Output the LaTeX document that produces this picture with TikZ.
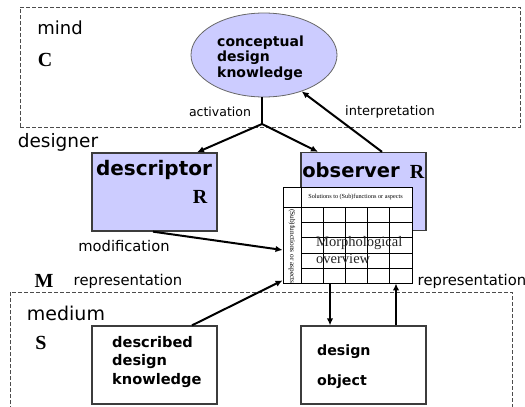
\documentclass[tikz,border=0pt]{standalone}
\usepackage{fontspec}
\setmainfont{DejaVu Sans}
\newfontfamily\tms{Liberation Serif}
\usetikzlibrary{arrows.meta,shapes.geometric,calc}
\definecolor{lav}{RGB}{204,204,255}
\definecolor{edgegray}{RGB}{60,60,60}
\begin{document}
\begin{tikzpicture}[x=1pt,y=-1pt,
  container/.style={draw=black!70, line width=0.7pt, dash pattern=on 4pt off 2pt},
  box/.style={draw=edgegray, line width=1.3pt, minimum width=125pt, minimum height=78pt, inner sep=0pt},
  lavbox/.style={box, fill=lav},
  txt/.style={inner sep=0pt, text=black},
  tb/.style={inner sep=0pt, font=\tms\bfseries\fontsize{20}{20}\selectfont},
  arr/.style={line width=2pt, -{Latex[length=7pt,width=6.5pt]}},
  grid/.style={line width=0.9pt, draw=black}
]
\useasboundingbox (0,0) rectangle (525,407);
% containers
\node[container, minimum width=500pt, minimum height=120pt, inner sep=0pt] (mindbox) at (270,67) {};
\draw[container] (10,410) -- (10,292) -- (512,292) -- (512,410);
% labels
\node[txt, font=\fontsize{18}{18}\selectfont] (tmind) at (60,28) {mind};
\node[tb] (tC) at (45,60) {C};
\node[txt, font=\fontsize{18.5}{18.5}\selectfont] (tdesigner) at (58,142) {designer};
\node[txt, font=\fontsize{12.5}{12.5}\selectfont] (tact) at (220,112) {activation};
\node[txt, font=\fontsize{13}{13}\selectfont] (tint) at (390,112) {interpretation};
\node[txt, font=\fontsize{14.7}{14.7}\selectfont] (tmod) at (124,246) {modification};
\node[tb] (tM) at (44,281) {M};
\node[txt, font=\fontsize{14.8}{14.8}\selectfont] (trep1) at (128,281) {representation};
\node[txt, font=\fontsize{14.8}{14.8}\selectfont] (trep2) at (472,281) {representation};
\node[txt, font=\fontsize{19}{19}\selectfont] (tmedium) at (66,313) {medium};
\node[tb] (tS) at (41,343) {S};
% ellipse
\node[ellipse, draw=black!60, line width=0.8pt, fill=lav, minimum width=146pt, minimum height=84pt, inner sep=0pt] (ck) at (264,55) {};
\node[txt, anchor=west, align=left, font=\bfseries\fontsize{14}{15.5}\selectfont] (cktext) at (217,58) {conceptual\\design\\knowledge};
% descriptor / observer
\node[lavbox] (desc) at (154.5,192) {};
\node[txt, font=\bfseries\fontsize{20}{20}\selectfont] (tdesc) at (154,170) {descriptor};
\node[tb] (tR1) at (200,197) {R};
\node[lavbox] (obs) at (363.5,191.5) {};
\node[txt, font=\bfseries\fontsize{19.5}{19.5}\selectfont] (tobs) at (351,170) {observer};
\node[tb] (tR2) at (417,172) {R};
% table
\node[draw=black, line width=0.9pt, fill=white, minimum width=129pt, minimum height=96pt, inner sep=0pt] (tbl) at (347.5,235) {};
\draw[grid] (301,187) -- (301,283);
\foreach \x in {323,345,367,389} \draw[grid] (\x,207) -- (\x,283);
\draw[grid] (283,207) -- (412,207);
\foreach \y in {222,237,253,268} \draw[grid] (301,\y) -- (412,\y);
\node[txt, font=\tms\fontsize{6.2}{6.2}\selectfont] (thead) at (355.5,197) {Solutions to (Sub)functions or aspects};
\begin{scope}
\clip (284,208) rectangle (300,282);
\node[txt, anchor=west, rotate=-90, font=\tms\fontsize{7.3}{7.3}\selectfont] (tside) at (292,209) {(Sub)functions or aspects};
\end{scope}
\node[txt, anchor=west, text=black!85, font=\tms\fontsize{14.5}{14.5}\selectfont] (tmorph) at (316,243) {Morphological};
\node[txt, anchor=west, text=black!85, font=\tms\fontsize{14.5}{14.5}\selectfont] (tover) at (316,259) {overview};
% bottom boxes
\node[box] (ddk) at (154.5,365) {};
\node[txt, anchor=west, align=left, font=\bfseries\fontsize{14.6}{18.5}\selectfont] (tddk) at (112,362) {described\\design\\knowledge};
\node[box] (obj) at (363.5,365) {};
\node[txt, anchor=west, font=\bfseries\fontsize{14.2}{14.2}\selectfont] (tdo1) at (317,352) {design};
\node[txt, anchor=west, font=\bfseries\fontsize{14.2}{14.2}\selectfont] (tdo2) at (317,382) {object};
% connectors
\coordinate (junc) at (262,124);
\draw[line width=2pt] ([xshift=-2pt]ck.south) -- (junc);
\draw[arr] (junc) -- ([xshift=42.5pt]desc.north);
\draw[arr] (junc) -- ([xshift=-45.5pt]obs.north);
\draw[arr] ([xshift=18.5pt]obs.north) -- (ck.-44);
\draw[arr] ([xshift=-1.5pt]desc.south) -- ([yshift=-15pt]tbl.west);
\draw[arr] ([xshift=37.5pt]ddk.north) -- ([yshift=3pt]tbl.south west);
\draw[arr] ([xshift=-17.5pt]tbl.south) -- ([xshift=-17.5pt]tbl.south |- obj.north);
\draw[arr] ([xshift=48.5pt]tbl.south |- obj.north) -- ([xshift=48.5pt]tbl.south);
\end{tikzpicture}
\end{document}
